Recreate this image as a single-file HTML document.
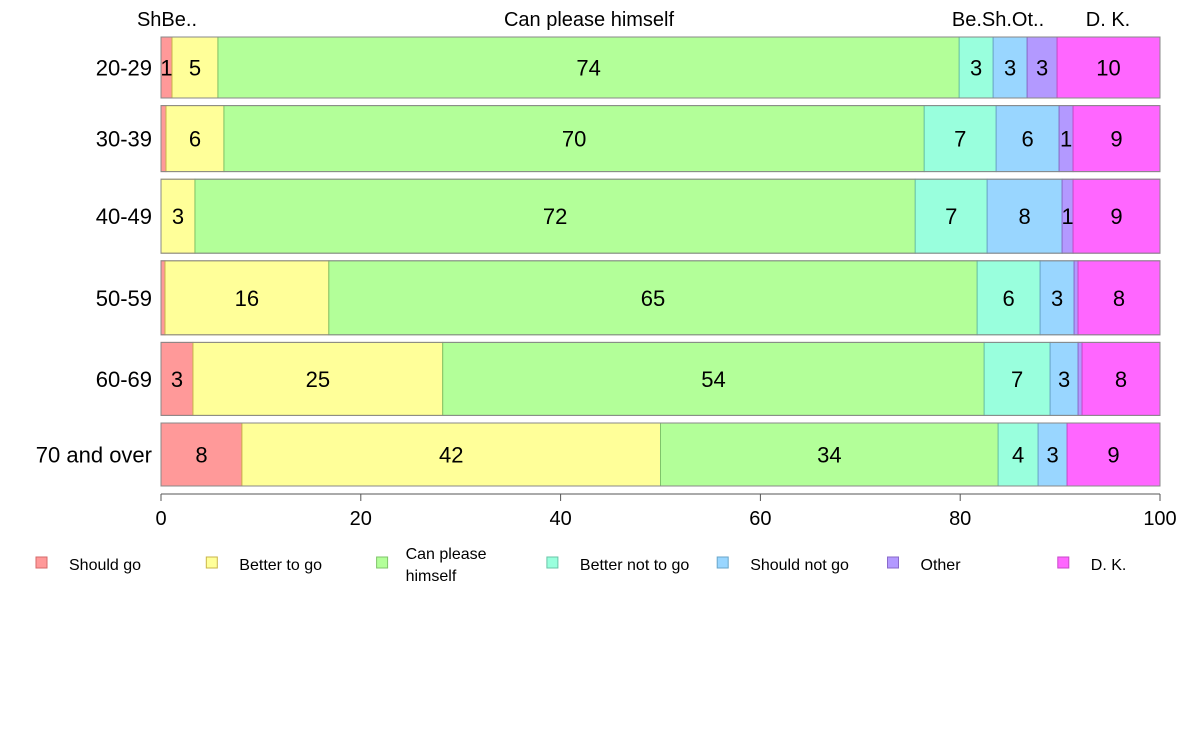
<!DOCTYPE html>
<html><head><meta charset="utf-8"><style>
body{margin:0;background:#fff;}
svg text{font-family:"Liberation Sans",sans-serif;fill:#000;}
</style></head><body>
<svg id="chart" width="1188" height="736" xmlns="http://www.w3.org/2000/svg"></svg>
<script>
const categories=["20-29","30-39","40-49","50-59","60-69","70 and over"];
const seriesNames=["Should go","Better to go","Can please himself","Better not to go","Should not go","Other","D. K."];
const shouldGo=[1.1,0.5,0,0.4,3.2,8.1];
const betterToGo=[4.6,5.8,3.4,16.4,25,41.9];
const canPlease=[74.2,70.1,72.1,64.9,54.2,33.8];
const betterNot=[3.4,7.2,7.2,6.3,6.6,4];
const shouldNot=[3.4,6.3,7.5,3.4,2.8,2.9];
const other=[3.0,1.4,1.1,0.4,0.4,0];
const dontKnow=[10.3,8.7,8.7,8.2,7.8,9.3];
const rowHeights=[61,66,74,74,73,63];
const xTicks=[0,20,40,60,80,100];
const fills=["#ff9999","#ffff99","#b3ff99","#99ffdd","#99d6ff","#b399ff","#ff66ff"];
const strokes=["#d46a6a","#c9b54a","#7fc46a","#6ac4a8","#6aa6c9","#8a6ac9","#c94ac9"];
const series=[shouldGo,betterToGo,canPlease,betterNot,shouldNot,other,dontKnow];
const svg=document.getElementById('chart');
const NS="http://www.w3.org/2000/svg";
const x0=161,x1=1160;
const xs=v=>x0+(x1-x0)*v/100;
function mk(tag,attrs,txt){const e=document.createElementNS(NS,tag);for(const k in attrs)e.setAttribute(k,attrs[k]);if(txt!==undefined)e.textContent=txt;svg.appendChild(e);return e;}
// rows
let y=37;const gap=7.6;
categories.forEach((c,i)=>{
  const h=rowHeights[i];
  let cum=0;
  series.forEach((s,j)=>{
    const v=s[i];
    if(v>0){
      const r=mk('rect',{x:xs(cum),y:y,width:xs(cum+v)-xs(cum),height:h,fill:fills[j],stroke:strokes[j],'stroke-width':1});
      
      
      if(v>=0.9){
        const t=mk('text',{x:(xs(cum)+xs(cum+v))/2,y:y+h/2+8,'text-anchor':'middle','font-size':22},String(Math.round(v)));
        
        
      }
    }
    cum+=v;
  });
  const o=mk('rect',{x:x0,y:y,width:x1-x0,height:h,fill:'none',stroke:'#888','stroke-width':1});
  
  
  const lt=mk('text',{x:152,y:y+h/2+8,'text-anchor':'end','font-size':22},c);
  
  
  y+=h+gap;
});
// top labels
[["ShBe..",167],["Can please himself",589],["Be.Sh.Ot..",998],["D. K.",1108]].forEach(([t,x])=>{
  const e=mk('text',{x:x,y:26,'text-anchor':'middle','font-size':20},t);
  
  
});
// axis
const ax=mk('line',{x1:x0,y1:494,x2:x1,y2:494,stroke:'#555','stroke-width':1});


xTicks.forEach(v=>{
  const l=mk('line',{x1:xs(v),y1:494,x2:xs(v),y2:501,stroke:'#555'});
  
  
  const t=mk('text',{x:xs(v),y:525,'text-anchor':'middle','font-size':20},String(v));
  
  
});
// legend
seriesNames.forEach((n,j)=>{
  const lx=36+j*170.3;
  const b=mk('rect',{x:lx,y:557,width:11,height:11,fill:fills[j],stroke:strokes[j]});
  
  
  if(n==="Can please himself"){
    const t1=mk('text',{x:lx+29,y:559,'font-size':16},"Can please");
    
    
    const t2=mk('text',{x:lx+29,y:581,'font-size':16},"himself");
    
    
  } else {
    const t=mk('text',{x:lx+33,y:570,'font-size':16},n);
    
    
  }
});
</script>
</body></html>
